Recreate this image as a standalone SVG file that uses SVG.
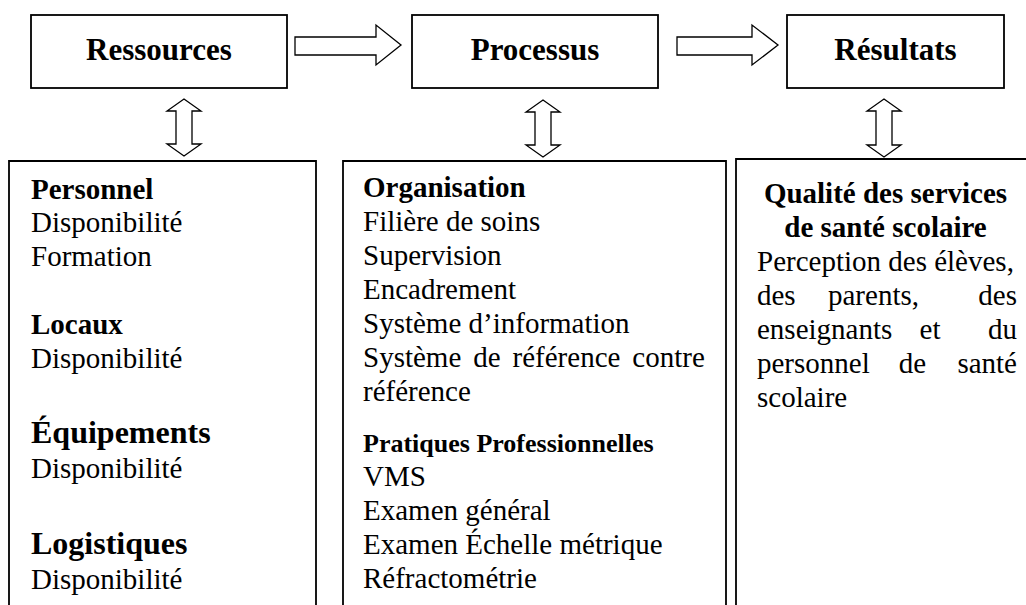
<svg xmlns="http://www.w3.org/2000/svg" width="1026" height="605" viewBox="0 0 1026 605">
<style>
.box{fill:#fff;stroke:#000;stroke-width:1.8}
.arr{fill:#fff;stroke:#000;stroke-width:1.3;stroke-linejoin:miter}
text{font-family:"Liberation Serif","Times New Roman",serif;fill:#000}
.h{font-size:31px;font-weight:bold;text-anchor:middle}
.b{font-size:29px;font-weight:bold}
.bb{font-size:32px;font-weight:bold}
.r{font-size:29px}
.pp{font-size:26px;font-weight:bold}
.e{text-anchor:end}
.m{text-anchor:middle}
</style>
<rect width="1026" height="605" fill="#fff"/>
<g id="ressources">
<rect class="box" x="31" y="15" width="256" height="73"/>
<text class="h" x="159" y="60">Ressources</text>
</g>
<g id="processus">
<rect class="box" x="412" y="15" width="246" height="73"/>
<text class="h" x="535" y="60">Processus</text>
</g>
<g id="resultats">
<rect class="box" x="787" y="15" width="217" height="73"/>
<text class="h" x="895.5" y="60">Résultats</text>
</g>
<g id="connectors">
<polygon class="arr" points="295,37 376,37 376,25 401,45 376,65 376,55 295,55"/>
<polygon class="arr" points="677,37 752,37 752,25 778,45 752,65 752,55 677,55"/>
<polygon class="arr" points="184,99 201,111 192,111 192,144 201,144 184,156 167,144 176,144 176,111 167,111"/>
<polygon class="arr" points="543,100 560,112 551,112 551,145 560,145 543,157 526,145 535,145 535,112 526,112"/>
<polygon class="arr" points="884,99 901,111 892,111 892,145 901,145 884,157 867,145 876,145 876,111 867,111"/>
</g>
<g id="ressources-detail">
<path class="box" d="M9,620 V161 H316 V620"/>
<text class="b" x="31" y="199">Personnel</text>
<text class="r" x="31" y="232">Disponibilité</text>
<text class="r" x="31" y="266">Formation</text>
<text class="b" x="31" y="334">Locaux</text>
<text class="r" x="31" y="368">Disponibilité</text>
<text class="bb" x="31" y="443">Équipements</text>
<text class="r" x="31" y="478">Disponibilité</text>
<text class="bb" x="31" y="554">Logistiques</text>
<text class="r" x="31" y="589">Disponibilité</text>
</g>
<g id="processus-detail">
<path class="box" d="M343,620 V161 H726 V620"/>
<text class="b" x="363" y="197">Organisation</text>
<text class="r" x="363" y="231">Filière de soins</text>
<text class="r" x="363" y="265">Supervision</text>
<text class="r" x="363" y="299">Encadrement</text>
<text class="r" x="363" y="333">Système d’information</text>
<text class="r" x="363" y="367" word-spacing="4.7">Système de référence contre</text>
<text class="r" x="363" y="401">référence</text>
<text class="pp" x="363" y="452">Pratiques Professionnelles</text>
<text class="r" x="363" y="486">VMS</text>
<text class="r" x="363" y="520">Examen général</text>
<text class="r" x="363" y="554">Examen Échelle métrique</text>
<text class="r" x="363" y="588">Réfractométrie</text>
</g>
<g id="resultats-detail">
<path class="box" d="M736,620 V159 H1030"/>
<text class="b m" x="885.5" y="203">Qualité des services</text>
<text class="b m" x="885.5" y="237">de santé scolaire</text>
<text class="r" x="757" y="271">Perception des élèves,</text>
<text class="r" x="757" y="305">des</text>
<text class="r m" x="873.5" y="305">parents,</text>
<text class="r e" x="1017" y="305">des</text>
<text class="r" x="757" y="339">enseignants</text>
<text class="r m" x="930" y="339">et</text>
<text class="r e" x="1017" y="339">du</text>
<text class="r" x="757" y="373">personnel</text>
<text class="r m" x="912.5" y="373">de</text>
<text class="r e" x="1017" y="373">santé</text>
<text class="r" x="757" y="407">scolaire</text>
</g>
</svg>
